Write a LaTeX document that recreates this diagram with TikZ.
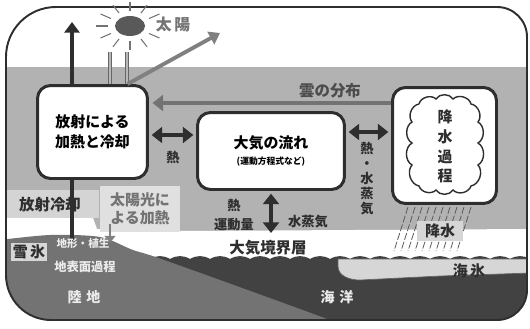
\documentclass[tikz,border=0pt]{standalone}
\usepackage{fontspec}
\setmainfont{Noto Sans CJK JP}
\usetikzlibrary{arrows.meta,calc,shapes.geometric}
\colorlet{ink}{black!82}
\colorlet{air}{black!30}
\colorlet{landgray}{black!55}
\colorlet{seagray}{black!74}
\colorlet{icegray}{black!16}
\newcommand{\fsz}[2]{\fontsize{#1}{#2}\selectfont}
\tikzset{
  procbox/.style={draw=ink, line width=1.7pt, fill=white, rounded corners=0.26cm, align=center, inner sep=0pt},
  lbl/.style={font=\bfseries\fsz{7.5}{8.6}, text=ink, inner sep=0pt, align=center},
  biglbl/.style={font=\bfseries\fsz{8.8}{10}, text=ink, inner sep=0pt},
  wlbl/.style={font=\bfseries\fsz{8}{9}, text=black!8, inner sep=0pt},
  flux/.style={line width=2.6pt, draw=ink, {Triangle[length=6pt,width=9pt]}-{Triangle[length=6pt,width=9pt]}, shorten <=1.5pt, shorten >=1.5pt},
  beam/.style={draw=black!60, line width=0.45pt, double=black!28, double distance=1.6pt},
  ray/.style={draw=black!55, line width=0.6pt},
  rain/.style={draw=black!65, line width=0.45pt, dash pattern=on 4pt off 1.2pt},
  cloudline/.style={draw=ink, line width=0.8pt},
}

\begin{document}
\begin{tikzpicture}[x=0.02cm, y=-0.02cm]
  \useasboundingbox (0,0) rectangle (530,328);

  % ground, sea and air layers, kept inside the frame
  \begin{scope}
    \clip (6,57) to[out=90,in=180] (56,7) -- (497,7) to[out=0,in=90] (527,37)
      -- (527,290) to[out=-90,in=0] (497,320) -- (51,320) to[out=180,in=-90] (6,275) -- cycle;
    \fill[air] (0,67) rectangle (530,330);
    \fill[black!17] (0,190) rectangle (99,218);                 % patch under the cooling label
    \fill[white] (0,218) -- (93,218) -- (97,229) -- (180,231) -- (530,229)
      -- (530,262) -- (0,262) -- cycle;                        % boundary layer band
    \fill[seagray] (150,259) \foreach \x in {170,190,...,530} { to[bend left=30] (\x,259) }
      -- (530,330) -- (150,330) -- cycle;                      % ocean
    \fill[landgray] plot[smooth] coordinates {(0,240) (50,235) (100,237) (133,250) (167,261) (335,322) (345,330)}
      -- (0,330) -- cycle;                                    % land
    \filldraw[fill=icegray, draw=black!60, line width=0.4pt] (338,259) -- (530,259) -- (530,273)
      -- (440,276) -- (360,280) to[out=180,in=-90] (338,266) -- cycle;   % sea ice
    \node[fill=icegray, text=ink, minimum width=0.74cm, minimum height=0.36cm,
      inner sep=0pt, font=\bfseries\fsz{8.5}{9}] (snow) at (29,252) {雪\,氷};
    \node[fill=black!12, text=black!55, minimum width=1.6cm, minimum height=0.92cm,
      inner sep=0pt, align=center, font=\bfseries\fsz{8.5}{10.2}] (solar) at (140,209) {太陽光に\\よる加熱};
  \end{scope}

  % frame
  \draw[ink, line width=1.1pt] (6,57) to[out=90,in=180] (56,7) -- (497,7) to[out=0,in=90] (527,37)
    -- (527,290) to[out=-90,in=0] (497,320) -- (51,320) to[out=180,in=-90] (6,275) -- cycle;

  % process boxes
  \node[procbox, minimum width=2.2cm, minimum height=1.86cm, font=\bfseries\fsz{8.5}{11.3}]
    (rad) at (92.5,132) {放射による\\加熱と冷却};
  \node[procbox, minimum width=2.94cm, minimum height=1.54cm, font=\bfseries\fsz{8.5}{9.5}]
    (flow) at (271,151) {大気の流れ\\{\fsz{5}{6}(運動方程式など)}};
  \node[procbox, minimum width=2.08cm, minimum height=2.32cm] (precip) at (444.5,145.5) {};

  % cloud outline inside the precipitation box
  \draw[cloudline] (419,104) \foreach \px/\py in {436/99,453/99,471/104,478/122,478/143,478/165,
      471/186,453/190,436/190,419/186,412/165,412/143,412/122,419/104}
    { to[bend left=60] (\px,\py) };
  \node[font=\bfseries\fsz{8.5}{11.3}, text=ink, align=center, inner sep=0pt] (ptext) at (445,146.5) {降\\水\\過\\程};

  % sun
  \node[ellipse, fill=black!65, minimum width=0.6cm, minimum height=0.4cm, inner sep=0pt] (sun) at (130,26) {};
  \foreach \a in {30,60,...,330}
    \draw[ray] ($(sun)+({22*cos(\a)},{15*sin(\a)})$) -- ($(sun)+({34*cos(\a)},{24*sin(\a)})$);
  \node[font=\bfseries\fsz{9}{10}, text=black!55, inner sep=0pt] (suntxt) at (173,25) {太\,陽};

  % sunlight in, reflected light out, radiation to space
  \coordinate (beamL) at (110,52);
  \coordinate (beamR) at (127,52);
  \coordinate (refl) at (220,33);
  \coordinate (space) at (72,22);
  \coordinate (ground) at (72,241);
  \draw[beam] (beamL) -- (beamL |- rad.north);
  \draw[beam] (beamR) -- (beamR |- rad.north);
  \draw[black!50, line width=2.2pt, -{Triangle[length=6pt,width=8pt]}]
    ($(rad.north)!0.62!(rad.north east)$) -- (refl);
  \draw[ink, line width=2.3pt, -{Triangle[length=6pt,width=8.5pt]}] (rad.north -| space) -- (space);
  \draw[ink, line width=1.8pt] (ground) -- (ground |- rad.south);

  % cloud distribution back to the radiation box
  \coordinate (cloudrow) at (0,103);
  \draw[black!55, line width=2.8pt, -{Triangle[length=6pt,width=9pt]}, shorten >=2pt]
    (precip.west |- cloudrow) -- (rad.east |- cloudrow);
  \node[biglbl, text=black!70] (clouddist) at (330,91) {雲の分布};

  % exchanges between the boxes
  \coordinate (rowL) at (0,135);
  \coordinate (rowR) at (0,132);
  \coordinate (pbl) at (271,233);
  \draw[flux] (rad.east |- rowL) -- (flow.west |- rowL);
  \draw[flux] (flow.east |- rowR) -- (precip.west |- rowR);
  \draw[flux, shorten >=0pt] (flow.south) -- (pbl);
  \node[lbl] (heatL) at (173,158) {熱};
  \node[lbl] (heatvap) at (367,178.5) {熱\\・\\水\\蒸\\気};
  \node[lbl, font=\bfseries\fsz{7.5}{11.3}] (heatmom) at (234,215) {熱\\運動量};
  \node[lbl] (vapor) at (308,222) {水蒸気};

  % precipitation
  \foreach \x in {408,415,...,471}
    \draw[rain] (\x,207) -- ++(-14,44);
  \node[fill=icegray, text=ink, minimum width=0.92cm, minimum height=0.4cm, inner sep=0pt,
    font=\bfseries\fsz{8.5}{9}] (rainbox) at (440,231) {降水};

  % surface labels
  \node[biglbl] (radcool) at (50,205) {放射冷却};
  \node[biglbl] (blayer) at (268,248) {大気境界層};
  \coordinate (hill) at (110,243);
  \draw[black!50, line width=1.5pt, -{Triangle[length=4pt,width=6pt]}, shorten <=-5pt]
    (hill |- solar.south) -- (hill);
  \node[wlbl, font=\bfseries\fsz{6}{7}] (terrain) at (83,244) {地形・植生};
  \node[wlbl, font=\bfseries\fsz{7}{8}] (sfc) at (85,267) {地表面過程};
  \node[wlbl] (landtxt) at (84,297) {陸\,\,地};
  \node[wlbl] (seatxt) at (337,297) {海\,\,洋};
  \node[biglbl, font=\bfseries\fsz{8.5}{9}] (icetxt) at (469,271) {海\,氷};
\end{tikzpicture}
\end{document}
